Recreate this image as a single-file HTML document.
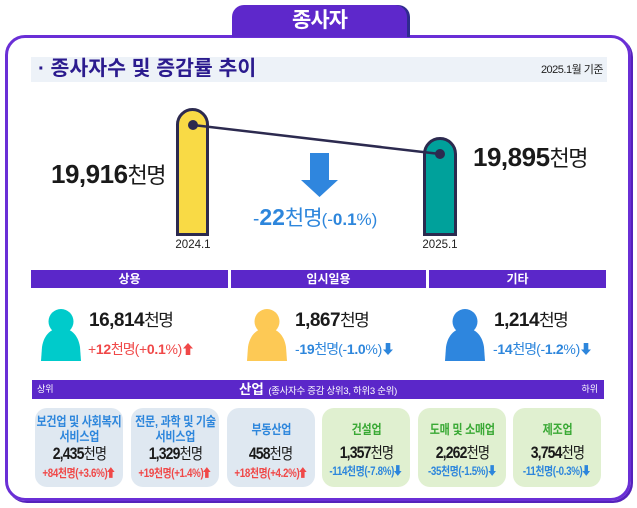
<!DOCTYPE html>
<html><head><meta charset="utf-8">
<style>
*{margin:0;padding:0;box-sizing:border-box}
html,body{width:637px;height:508px;background:#fff;overflow:hidden}
body{position:relative;font-family:"Liberation Sans","Noto Sans CJK KR",sans-serif;color:#1a1a1a}
.a{position:absolute;white-space:nowrap}
.b{font-weight:bold}
.cc{display:inline-block;transform:scaleX(0.85);transform-origin:center center;white-space:nowrap}
.card{position:absolute;top:408px;width:88px;height:79px;border-radius:12px;background:#dfe8f1}
.card.g{background:#e0f0d0}
.card .l{position:absolute;left:-30px;width:148px;text-align:center;height:16px;line-height:16px;white-space:nowrap}
.t{font-size:13px;font-weight:bold;color:#2d86dc;letter-spacing:-0.3px}
.g .t{color:#3aa935}
.n{font-size:15px}
.n b{font-size:16.5px}
.n span{font-size:15.5px;letter-spacing:-1px}
.ch{font-size:11.5px;font-weight:bold;letter-spacing:-0.4px}
.red{color:#f04848}
.blue{color:#2d86dc}
.hd{position:absolute;top:270px;height:18px;background:#5b27c9;color:#fff;font-size:12px;font-weight:bold;text-align:center;line-height:18px}
</style></head><body>

<!-- frame -->
<div class="a" style="left:5px;top:35px;width:626px;height:466px;border:3px solid #6a2fd6;border-radius:20px;box-shadow:2px 2px 0 #5522bb"></div>
<!-- tab -->
<div class="a" style="left:232px;top:5px;width:175px;height:32px;background:#5e28cb;border-radius:12px 12px 0 0;box-shadow:3px 0 0 #2f2b8e;color:#fff;font-size:21px;font-weight:bold;text-align:center;line-height:32px;letter-spacing:-1px">종사자</div>

<!-- title bar -->
<div class="a" style="left:31px;top:57px;width:576px;height:25px;background:#edf2f8"></div>
<div class="a b" style="left:38px;top:56px;height:26px;line-height:26px;font-size:20.5px;color:#2b1b8e;letter-spacing:0">·&nbsp;종사자수 및 증감률 추이</div>
<div class="a" style="left:517px;top:62px;width:86px;text-align:right;height:16px;line-height:16px;font-size:11px;color:#222;letter-spacing:-0.5px">2025.1월 기준</div>

<!-- chart -->
<svg class="a" style="left:0;top:0" width="637" height="508" viewBox="0 0 637 508">
  <path d="M177.5,234.5 V124.5 A15,15 0 0 1 207.5,124.5 V234.5 Z" fill="#f9da45" stroke="#2c2a4f" stroke-width="3"/>
  <path d="M424.5,234.5 V154 A15.5,15.5 0 0 1 455.5,154 V234.5 Z" fill="#00a19b" stroke="#2c2a4f" stroke-width="3"/>
  <line x1="193" y1="125" x2="440" y2="154" stroke="#2c2a4f" stroke-width="2.5"/>
  <circle cx="193" cy="125" r="5" fill="#2c2a4f"/>
  <circle cx="440" cy="154" r="5" fill="#2c2a4f"/>
  <polygon points="310,153 329,153 329,180 338,180 319.5,197 301,180 310,180" fill="#2f86de"/>
  <g fill="#00cbcb" transform="translate(41,309)">
    <ellipse cx="20" cy="12.5" rx="12.5" ry="12.5"/>
    <path d="M0,52 L1,38 C3,25 11,19 20,19 C29,19 37,25 39,38 L40,52 Z"/>
  </g>
  <g fill="#fdc955" transform="translate(247,309)">
    <ellipse cx="20" cy="12.5" rx="12.5" ry="12.5"/>
    <path d="M0,52 L1,38 C3,25 11,19 20,19 C29,19 37,25 39,38 L40,52 Z"/>
  </g>
  <g fill="#2e86de" transform="translate(445,309)">
    <ellipse cx="20" cy="12.5" rx="12.5" ry="12.5"/>
    <path d="M0,52 L1,38 C3,25 11,19 20,19 C29,19 37,25 39,38 L40,52 Z"/>
  </g>
</svg>

<div class="a" style="left:163px;top:238px;width:60px;text-align:center;font-size:11.5px;line-height:14px;color:#222">2024.1</div>
<div class="a" style="left:410px;top:238px;width:60px;text-align:center;font-size:11.5px;line-height:14px;color:#222">2025.1</div>

<div class="a" style="left:51px;top:158px;height:32px;line-height:32px;color:#1a1a1a"><b style="font-size:26px;letter-spacing:-0.5px">19,916</b><span style="font-size:22px;letter-spacing:-1.5px">천명</span></div>
<div class="a" style="left:473px;top:141px;height:32px;line-height:32px;color:#1a1a1a"><b style="font-size:26px;letter-spacing:-0.5px">19,895</b><span style="font-size:22px;letter-spacing:-1.5px">천명</span></div>

<div class="a blue" style="left:253px;top:202px;height:30px;line-height:30px"><span style="font-size:19px">-</span><b style="font-size:23px">22</b><span style="font-size:21px;letter-spacing:-1px">천명</span><span style="font-size:17px">(-<b>0.1</b>%)</span></div>

<!-- headers -->
<div class="hd" style="left:31px;width:197px">상용</div>
<div class="hd" style="left:231px;width:195px">임시일용</div>
<div class="hd" style="left:429px;width:177px">기타</div>

<!-- person numbers -->
<div class="a" style="left:89px;top:310px;height:22px;line-height:22px"><b style="font-size:19px;letter-spacing:-0.5px">16,814</b><span style="font-size:17px;letter-spacing:-1.5px">천명</span></div>
<div class="a red" style="left:88px;top:341px;height:17px;line-height:17px;font-size:14px;letter-spacing:-0.3px">+<b>12</b><span style="letter-spacing:-1px">천명</span>(+<b>0.1</b>%)<svg width="10" height="12" viewBox="0 0 10 12" style="margin-left:1px;vertical-align:-1px"><polygon points="5,0 10,5.5 7.3,5.5 7.3,12 2.7,12 2.7,5.5 0,5.5" fill="#f04848"/></svg></div>

<div class="a" style="left:295px;top:310px;height:22px;line-height:22px"><b style="font-size:19px;letter-spacing:-0.5px">1,867</b><span style="font-size:17px;letter-spacing:-1.5px">천명</span></div>
<div class="a blue" style="left:295px;top:341px;height:17px;line-height:17px;font-size:14px;letter-spacing:-0.3px">-<b>19</b><span style="letter-spacing:-1px">천명</span>(-<b>1.0</b>%)<svg width="10" height="12" viewBox="0 0 10 12" style="margin-left:1px;vertical-align:-1px"><polygon points="2.7,0 7.3,0 7.3,6.5 10,6.5 5,12 0,6.5 2.7,6.5" fill="#2d86dc"/></svg></div>

<div class="a" style="left:494px;top:310px;height:22px;line-height:22px"><b style="font-size:19px;letter-spacing:-0.5px">1,214</b><span style="font-size:17px;letter-spacing:-1.5px">천명</span></div>
<div class="a blue" style="left:493px;top:341px;height:17px;line-height:17px;font-size:14px;letter-spacing:-0.3px">-<b>14</b><span style="letter-spacing:-1px">천명</span>(-<b>1.2</b>%)<svg width="10" height="12" viewBox="0 0 10 12" style="margin-left:1px;vertical-align:-1px"><polygon points="2.7,0 7.3,0 7.3,6.5 10,6.5 5,12 0,6.5 2.7,6.5" fill="#2d86dc"/></svg></div>

<!-- industry bar -->
<div class="a" style="left:32px;top:380px;width:572px;height:19px;background:#5b27c9"></div>
<div class="a" style="left:37px;top:381px;height:17px;line-height:17px;font-size:9px;color:#fff">상위</div>
<div class="a" style="left:580px;top:381px;width:18px;text-align:right;height:17px;line-height:17px;font-size:9px;color:#fff">하위</div>
<div class="a" style="left:32px;top:380px;width:572px;height:19px;line-height:19px;text-align:center;color:#fff"><b style="font-size:13.5px">산업</b> <span style="font-size:9.5px;letter-spacing:-0.3px">(종사자수 증감 상위3, 하위3 순위)</span></div>

<!-- cards -->
<div class="card" style="left:35px">
  <div class="l t" style="top:6px"><span class="cc">보건업 및 사회복지</span></div>
  <div class="l t" style="top:21px"><span class="cc">서비스업</span></div>
  <div class="l n" style="top:37px;height:19px;line-height:19px"><span class="cc"><b>2,435</b><span>천명</span></span></div>
  <div class="l ch red" style="top:58px"><span class="cc">+84천명(+3.6%)<svg width="9" height="11" viewBox="0 0 10 12" style="vertical-align:-1px"><polygon points="5,0 10,5.5 7.3,5.5 7.3,12 2.7,12 2.7,5.5 0,5.5" fill="#f04848"/></svg></span></div>
</div>
<div class="card" style="left:131px">
  <div class="l t" style="top:6px"><span class="cc">전문, 과학 및 기술</span></div>
  <div class="l t" style="top:21px"><span class="cc">서비스업</span></div>
  <div class="l n" style="top:37px;height:19px;line-height:19px"><span class="cc"><b>1,329</b><span>천명</span></span></div>
  <div class="l ch red" style="top:58px"><span class="cc">+19천명(+1.4%)<svg width="9" height="11" viewBox="0 0 10 12" style="vertical-align:-1px"><polygon points="5,0 10,5.5 7.3,5.5 7.3,12 2.7,12 2.7,5.5 0,5.5" fill="#f04848"/></svg></span></div>
</div>
<div class="card" style="left:227px">
  <div class="l t" style="top:14px"><span class="cc">부동산업</span></div>
  <div class="l n" style="top:37px;height:19px;line-height:19px"><span class="cc"><b>458</b><span>천명</span></span></div>
  <div class="l ch red" style="top:58px"><span class="cc">+18천명(+4.2%)<svg width="9" height="11" viewBox="0 0 10 12" style="vertical-align:-1px"><polygon points="5,0 10,5.5 7.3,5.5 7.3,12 2.7,12 2.7,5.5 0,5.5" fill="#f04848"/></svg></span></div>
</div>
<div class="card g" style="left:322px">
  <div class="l t" style="top:14px"><span class="cc">건설업</span></div>
  <div class="l n" style="top:36px;height:19px;line-height:19px"><span class="cc"><b>1,357</b><span>천명</span></span></div>
  <div class="l ch blue" style="top:56px"><span class="cc">-114천명(-7.8%)<svg width="9" height="11" viewBox="0 0 10 12" style="vertical-align:-1px"><polygon points="2.7,0 7.3,0 7.3,6.5 10,6.5 5,12 0,6.5 2.7,6.5" fill="#2d86dc"/></svg></span></div>
</div>
<div class="card g" style="left:418px">
  <div class="l t" style="top:14px"><span class="cc">도매 및 소매업</span></div>
  <div class="l n" style="top:36px;height:19px;line-height:19px"><span class="cc"><b>2,262</b><span>천명</span></span></div>
  <div class="l ch blue" style="top:56px"><span class="cc">-35천명(-1.5%)<svg width="9" height="11" viewBox="0 0 10 12" style="vertical-align:-1px"><polygon points="2.7,0 7.3,0 7.3,6.5 10,6.5 5,12 0,6.5 2.7,6.5" fill="#2d86dc"/></svg></span></div>
</div>
<div class="card g" style="left:513px">
  <div class="l t" style="top:14px"><span class="cc">제조업</span></div>
  <div class="l n" style="top:36px;height:19px;line-height:19px"><span class="cc"><b>3,754</b><span>천명</span></span></div>
  <div class="l ch blue" style="top:56px"><span class="cc">-11천명(-0.3%)<svg width="9" height="11" viewBox="0 0 10 12" style="vertical-align:-1px"><polygon points="2.7,0 7.3,0 7.3,6.5 10,6.5 5,12 0,6.5 2.7,6.5" fill="#2d86dc"/></svg></span></div>
</div>

</body></html>
